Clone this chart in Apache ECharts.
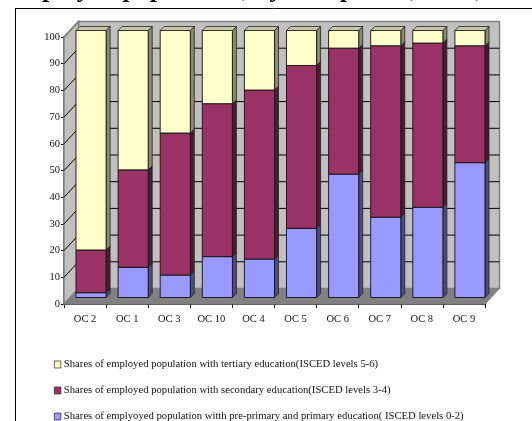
<!DOCTYPE html>
<html><head><meta charset="utf-8">
<style>html,body{margin:0;padding:0;background:#fff}#c{width:532px;height:421px}</style>
<script src="https://cdn.jsdelivr.net/npm/echarts@6/dist/echarts.min.js"></script>
</head><body><div id="c"></div>
<script>
const titleText = 'Employed population, by occupation, 2005, EU-25';
const categories = ['OC 2','OC 1','OC 3','OC 10','OC 4','OC 5','OC 6','OC 7','OC 8','OC 9'];
const primaryShare   = [1.8, 11.3, 8.4, 15.3, 14.4, 25.9, 46.2, 30.1, 33.8, 50.5];
const secondaryShare = [16.0, 36.5, 53.2, 57.3, 63.3, 61.0, 47.2, 64.2, 61.5, 43.8];
const tertiaryShare  = [82.2, 52.2, 38.4, 27.4, 22.3, 13.1, 6.6, 5.7, 4.7, 5.7];
const nameTertiary  = 'Shares of employed population with tertiary education(ISCED levels 5-6)';
const nameSecondary = 'Shares of employed population with secondary education(ISCED levels 3-4)';
const namePrimary   = 'Shares of emplyoyed population witth pre-primary and primary education( ISCED levels 0-2)';

const FONT = '"Liberation Serif"';
const DX = 14.5, DY = 15.5;       // depth of the 3D box
const BX = 6, BY = 6.5, BD = 4;   // bar offset into the box and bar depth

function poly(points, fill, stroke, lw) {
  return {type:'polygon', shape:{points}, style:{fill, stroke: stroke || 'none', lineWidth: lw === undefined ? 1 : lw}};
}
function line(x1,y1,x2,y2,stroke,lw){
  return {type:'line', shape:{x1,y1,x2,y2}, style:{stroke, lineWidth: lw||1}};
}
function renderWalls(params, api) {
  const g = params.coordSys, L = g.x, R = g.x + g.width, T = g.y, B = g.y + g.height;
  const kids = [];
  kids.push(poly([[L+DX,T-DY],[R+DX,T-DY],[R+DX,B-DY],[L+DX,B-DY]], '#C0C0C0', '#808080', 1.5));
  kids.push(poly([[L,T],[L+DX,T-DY],[L+DX,B-DY],[L,B]], '#C0C0C0', '#808080', 1.5));
  kids.push(poly([[L,B],[L+DX,B-DY],[R+DX,B-DY],[R,B]], '#808080', '#808080', 1));
  for (let v = 10; v <= 90; v += 10) {
    const y = api.coord([0, v])[1];
    kids.push(line(L, y, L+DX, y-DY, '#000', 1));
    kids.push(line(L+DX, y-DY, R+DX, y-DY, '#000', 1));
  }
  kids.push(line(L, T, L+DX, T-DY, '#808080', 1.5));
  return {type:'group', children:kids};
}
function makeRender(colors, isTop) {
  return function (params, api) {
    const c = api.value(0), lo = api.value(1), hi = api.value(2);
    const p0 = api.coord([c, lo]), p1 = api.coord([c, hi]);
    const w = api.size([1, 0])[0] * 0.715;
    const x0 = p0[0] - w/2 + BX, x1 = x0 + w, y0 = p0[1] - BY, y1 = p1[1] - BY;
    const kids = [
      poly([[x1,y0],[x1+BD,y0-BD],[x1+BD,y1-BD],[x1,y1]], colors.side, '#222', 0.8),
      poly([[x0,y0],[x1,y0],[x1,y1],[x0,y1]], colors.front, '#111', 0.9)
    ];
    if (isTop) kids.push(poly([[x0,y1],[x1,y1],[x1+BD,y1-BD],[x0+BD,y1-BD]], colors.top, '#222', 0.8));
    return {type:'group', children:kids};
  };
}
function stackRows(shares, below) {
  return shares.map((v,i) => { const s = below.reduce((a,b)=>a+b[i],0); return [i, s, s+v]; });
}
function barSeries(name, colors, shares, below, isTop, z) {
  return {type:'custom', name, z, renderItem:makeRender(colors,isTop), data:stackRows(shares,below),
          encode:{x:0,y:[1,2]}, itemStyle:{color:colors.front}, silent:true, clip:false};
}
const chart = echarts.init(document.getElementById('c'), null, {renderer:'canvas'});
chart.setOption({
  animation:false,
  backgroundColor:'#fff',
  title:{text:titleText, left:3, top:-23, padding:0, textStyle:{fontFamily:FONT,fontWeight:'bold',fontSize:26,color:'#000'}},
  grid:{left:64, right:47, top:37, bottom:117},
  legend:{orient:'vertical', left:54, top:359, height:70, itemWidth:6.5, itemHeight:7, itemGap:15, padding:0,
    data:[nameTertiary,nameSecondary,namePrimary], selectedMode:false, icon:'rect',
    itemStyle:{borderColor:'#222',borderWidth:0.7},
    textStyle:{fontFamily:FONT,fontSize:10.66,color:'#111',padding:[0,0,0,-2]}},
  xAxis:{type:'category', data:categories,
    axisLine:{lineStyle:{color:'#000',width:1.5}},
    axisTick:{show:true,length:4,lineStyle:{color:'#000'}},
    axisLabel:{fontFamily:FONT,fontSize:10.5,color:'#111',margin:10,interval:0}},
  yAxis:{type:'value', min:0, max:100, interval:10,
    axisLine:{show:true,lineStyle:{color:'#555',width:1.5}},
    axisTick:{show:true,length:3,lineStyle:{color:'#000'}},
    splitLine:{show:false},
    axisLabel:{fontFamily:FONT,fontSize:10.5,color:'#111',margin:4}},
  series:[
    {type:'custom', name:'walls', z:1, silent:true, renderItem:renderWalls, data:[[0,0]], encode:{x:0,y:1}, clip:false},
    barSeries(namePrimary,{front:'#9999FF',side:'#4C4C80',top:'#BFBFFF'},primaryShare,[],false,2),
    barSeries(nameSecondary,{front:'#993366',side:'#4C1A33',top:'#C080A0'},secondaryShare,[primaryShare],false,2),
    barSeries(nameTertiary,{front:'#FFFFCC',side:'#8C8C70',top:'#C6C6A6'},tertiaryShare,[primaryShare,secondaryShare],true,2)
  ],
  graphic:[
    {type:'line',z:0,shape:{x1:15,y1:8.5,x2:532,y2:8.5},style:{stroke:'#000',lineWidth:1}},
    {type:'line',z:0,shape:{x1:15.5,y1:8,x2:15.5,y2:421},style:{stroke:'#000',lineWidth:1}}
  ]
});
</script></body></html>
